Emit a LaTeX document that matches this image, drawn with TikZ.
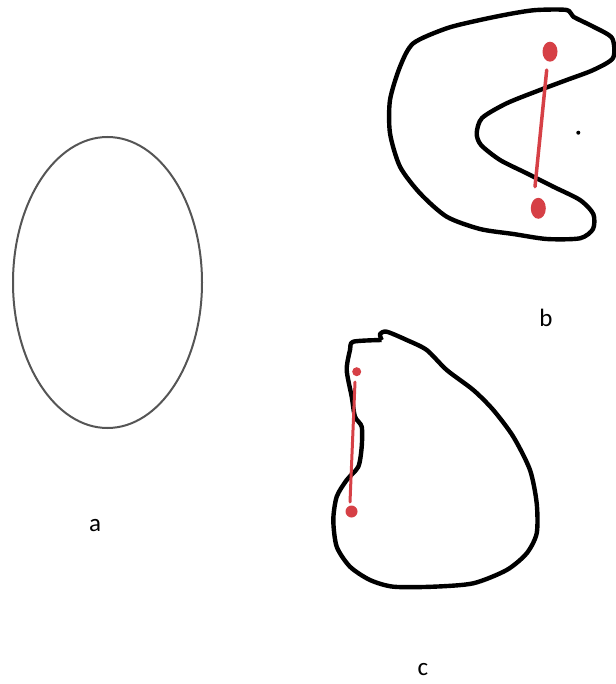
\documentclass[tikz,border=0pt]{standalone}
\usepackage{fontspec}
\setmainfont{Carlito}
\begin{document}
\begin{tikzpicture}[x=1pt,y=-1pt,
  outline/.style={line width=4.4pt,line join=round,black},
  redmark/.style={fill={rgb,255:red,214;green,64;blue,70}},
  redline/.style={draw={rgb,255:red,214;green,64;blue,70},line width=3.5pt,line cap=round},
  lbl/.style={font=\fontsize{25}{28}\selectfont,inner sep=0pt}]
\useasboundingbox (0,0) rectangle (615,684);
% a: ellipse
\draw[line width=2pt,color={rgb,255:red,85;green,85;blue,85}] (107.5,282.5) ellipse [x radius=94.5,y radius=145.5];
% b: notched shape
\draw[outline] plot[smooth cycle,tension=0.45] coordinates {
 (413.3,43.3) (446.7,28.3) (480,20) (513.3,13.3) (536.7,10) (566.7,10) (573.3,16.7)
 (593.3,26.7) (612,38) (613,58) (593.3,70) (566.7,80) (540,90) (506.7,103.3)
 (482,118) (476.7,133.3) (481,145) (500,160) (526.7,173.3) (553.3,186.7) (580,200)
 (593.3,214) (593,229) (580,238.3) (546.7,239) (513.3,234) (480,229) (446.7,216.7)
 (420,193.3) (400,166.7) (390,133.3) (390,100) (400,66.7)};
\draw[redline] (546.7,70) -- (535,186.7);
\fill[redmark] (550,51.7) ellipse [x radius=7.5,y radius=10];
\fill[redmark] (538.3,208.3) ellipse [x radius=7.5,y radius=10.5];
\fill (578.3,132.7) circle [radius=2];
% c: drop shape
\draw[outline] plot[smooth,tension=0.45] coordinates {
 (381.7,340) (353.3,341.7) (350,350) (346.7,370) (351.7,396.7) (355,416.7) (361.7,426.7)
 (361.7,446.7) (358.3,466.7) (346.7,480) (336.7,496.7) (333.3,520) (336.7,546.7)
 (350,566.7) (370,580) (393.3,586.7) (433.3,586.7) (473.3,583.3) (506.7,570)
 (526.7,553.3) (536.7,533.3) (536.7,503.3) (530,470) (513.3,436.7) (493.3,410)
 (473.3,390) (446.7,370) (426.7,350) (406.7,340) (386.7,331.7) (380,334) (381.7,340)};
\draw[redline,line width=3pt] (355,382) -- (350,502);
\fill[redmark] (356.7,371.7) circle [radius=4.5];
\fill[redmark] (351.5,511.5) circle [radius=6];
% labels
\node[lbl] (la) at (95,526) {a};
\node[lbl] (lb) at (546,318) {b};
\node[lbl] (lc) at (423,670) {c};
\end{tikzpicture}
\end{document}
